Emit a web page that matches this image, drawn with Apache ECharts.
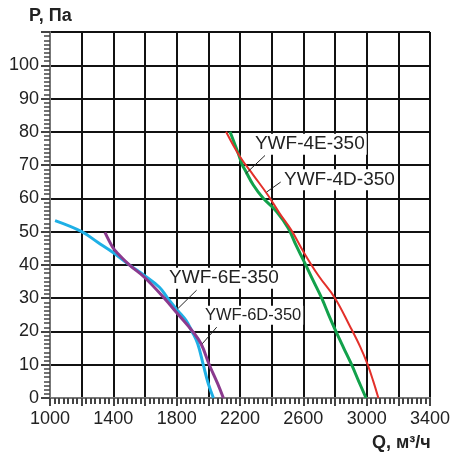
<!DOCTYPE html>
<html>
<head>
<meta charset="utf-8">
<script src="https://cdn.jsdelivr.net/npm/echarts@6/dist/echarts.min.js"></script>
<style>
  html, body { margin: 0; padding: 0; background: #fff; }
  #chart { width: 465px; height: 465px; }
</style>
</head>
<body>
<div id="chart"></div>
<script>
// curves, [Q, P]
const fan4E = [[2137, 80], [2189, 73.5], [2215, 70], [2232, 68.5], [2284, 64], [2347, 60], [2432, 56],
  [2505, 51], [2553, 46], [2605, 41], [2660, 35.5], [2716, 30], [2760, 25], [2806, 20], [2855, 15],
  [2905, 10], [2950, 5], [2996, 0]]
const fan4D = [[2112, 80], [2200, 72.5], [2284, 67], [2379, 60.8], [2450, 55.5], [2526, 50.3], [2600, 44],
  [2695, 36.8], [2800, 30], [2895, 21.5], [2958, 15.5], [3004, 10.3], [3042, 5], [3074, 0]]
const fan6E = [[1032, 53.3], [1200, 50], [1301, 46.8], [1396, 43.8], [1501, 40], [1596, 36.8], [1691, 33.3],
  [1743, 30], [1806, 26.3], [1859, 23.3], [1897, 20], [1933, 16.3], [1968, 10], [2000, 4.3], [2032, 0]]
const fan6D = [[1347, 49.8], [1396, 45.3], [1421, 43.8], [1501, 40], [1596, 36.3], [1722, 30], [1806, 25.3],
  [1901, 20], [1954, 16.3], [2006, 10], [2059, 4.3], [2095, 0]]

const names = ['YWF-4E-350', 'YWF-4D-350', 'YWF-6E-350', 'YWF-6D-350']
const colors = ['#12a14b', '#e3302a', '#1fb0e6', '#8b3a8e']
const widths = [3, 2, 3, 3]
// label centre and leader line (from, to) in chart units
const labelAt = [[2641, 76.3], [2828, 65.6], [2099, 36], [2283, 24.9]]
const leaders = [
  [[2358, 72.9], [2236, 67.4]],
  [[2457, 64.9], [2368, 61.9]],
  [[1926, 32.4], [1804, 26.7]],
  [[2053, 21.3], [1962, 16.3]]
]
const labelSize = [19, 19, 19, 16.5]
const curves = [fan4E, fan4D, fan6E, fan6D]

const xMin = 1000, xMax = 3400, xStep = 200
const yMin = 0, yMax = 110, yStep = 10
const font = 'Liberation Sans, Arial, sans-serif'

const chart = echarts.init(document.getElementById('chart'))

const series = curves.map((data, i) => ({
  name: names[i],
  type: 'line',
  data: data,
  smooth: 0.4,
  showSymbol: false,
  z: 3,
  lineStyle: { color: colors[i], width: widths[i] },
  markPoint: {
    silent: true,
    symbol: 'rect',
    symbolSize: 0,
    data: [{ coord: labelAt[i] }],
    label: {
      show: true,
      position: 'inside',
      formatter: names[i],
      color: '#222',
      fontFamily: font,
      fontSize: labelSize[i],
      backgroundColor: '#fff',
      padding: [1, 2]
    }
  },
  markLine: {
    silent: true,
    symbol: 'none',
    animation: false,
    label: { show: false },
    lineStyle: { color: '#222', width: 1, type: 'solid' },
    data: [[{ coord: leaders[i][0] }, { coord: leaders[i][1] }]]
  }
}))

chart.setOption({
  animation: false,
  grid: { left: 50, right: 35, top: 32, bottom: 67 },
  xAxis: {
    type: 'value',
    min: xMin,
    max: xMax,
    interval: xStep,
    axisLine: { show: true, lineStyle: { color: '#777', width: 2 } },
    axisTick: { show: true, length: 8, lineStyle: { color: '#444', width: 2 } },
    minorTick: { show: true, splitNumber: 7, length: 6, lineStyle: { color: '#444', width: 2 } },
    splitLine: { show: true, lineStyle: { color: '#111', width: 2 } },
    axisLabel: {
      margin: 12,
      color: '#222',
      fontFamily: font,
      fontSize: 18,
      formatter: v => ((v - xMin) % 400 === 0 ? String(v) : '')
    }
  },
  yAxis: {
    type: 'value',
    min: yMin,
    max: yMax,
    interval: yStep,
    axisLine: { show: true, lineStyle: { color: '#777', width: 2 } },
    axisTick: { show: true, length: 9, lineStyle: { color: '#444', width: 2 } },
    minorTick: { show: true, splitNumber: 8, length: 6, lineStyle: { color: '#444', width: 1.5 } },
    splitLine: { show: true, lineStyle: { color: '#111', width: 2 } },
    axisLabel: {
      margin: 11,
      color: '#222',
      fontFamily: font,
      fontSize: 18,
      formatter: v => (v === yMax ? '' : String(v))
    }
  },
  graphic: [
    {
      type: 'text', left: 29, top: 7,
      style: { text: 'P, Па', fill: '#222', font: 'bold 18px ' + font }
    },
    {
      type: 'text', left: 372, top: 434,
      style: { text: 'Q, м³/ч', fill: '#222', font: 'bold 18px ' + font }
    }
  ],
  series: series
})
</script>
</body>
</html>
